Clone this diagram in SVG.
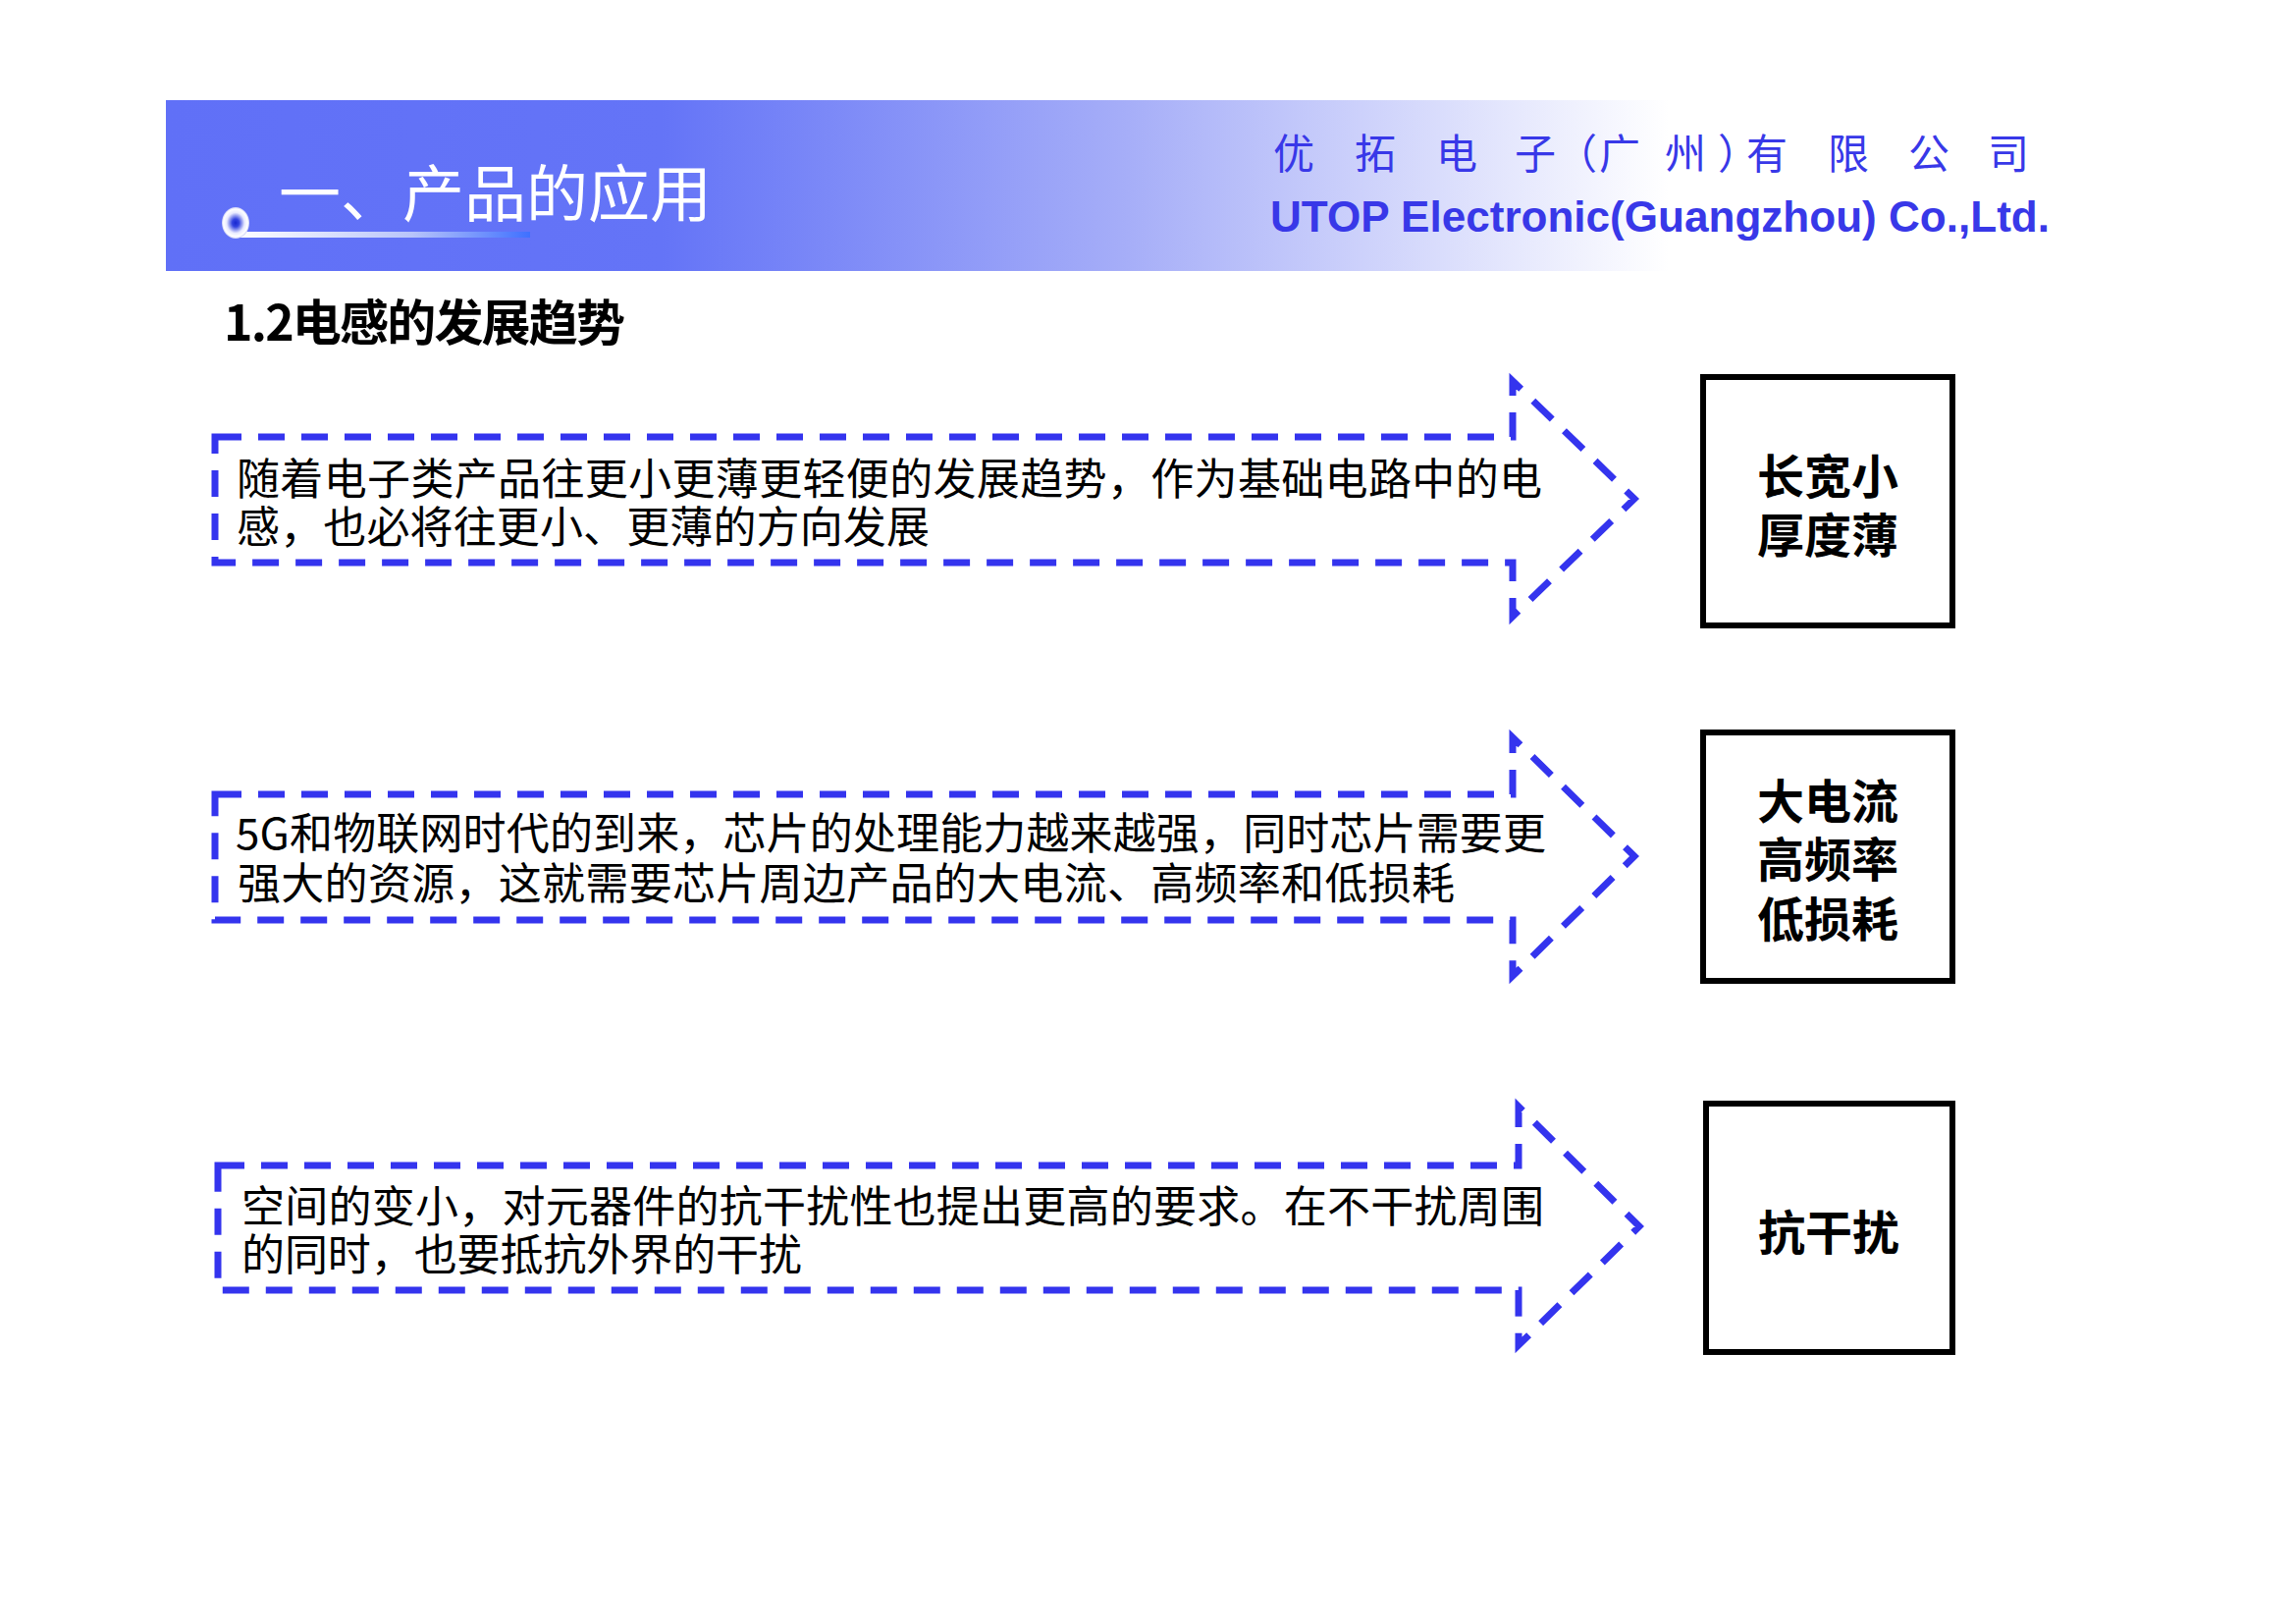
<svg xmlns="http://www.w3.org/2000/svg" width="2339" height="1653" viewBox="0 0 2339 1653">
<style>
.arrow{fill:none;stroke:#3434EE;stroke-width:7;stroke-dasharray:27 17;stroke-linejoin:miter}
.body{font-family:"Noto Sans CJK SC","Liberation Serif",sans-serif;font-size:44px;fill:#000}
.box{fill:#fff;stroke:#000;stroke-width:6}
.boxtxt{font-family:"Noto Sans CJK SC",sans-serif;font-size:48px;font-weight:700;fill:#000;text-anchor:middle}
</style>
<defs>
<linearGradient id="band" gradientUnits="userSpaceOnUse" x1="169" y1="0" x2="1700" y2="0">
<stop offset="0" stop-color="#6070F7"/>
<stop offset="0.33" stop-color="#6474F7"/>
<stop offset="0.64" stop-color="#A6AEF8"/>
<stop offset="1" stop-color="#FFFFFF"/>
</linearGradient>
<linearGradient id="bar" x1="0" y1="0" x2="1" y2="0">
<stop offset="0" stop-color="#FFFFFF"/>
<stop offset="0.6" stop-color="#B8C4FA"/>
<stop offset="1" stop-color="#3F70FF"/>
</linearGradient>
<radialGradient id="dot" cx="0.5" cy="0.5" r="0.5">
<stop offset="0" stop-color="#1626D0"/>
<stop offset="0.25" stop-color="#3444E0"/>
<stop offset="0.65" stop-color="#E8EAFF"/>
<stop offset="0.88" stop-color="#FFFFFF"/>
<stop offset="1" stop-color="#C8CCF8"/>
</radialGradient>
</defs>
<rect width="2339" height="1653" fill="#fff"/>
<g id="header">
<rect x="169" y="102" width="1531" height="174" fill="url(#band)"/>
<rect x="240" y="236" width="300" height="6" fill="url(#bar)"/>
<ellipse cx="240" cy="227" rx="14" ry="16" fill="url(#dot)"/>
<text x="284" y="220" font-family="Noto Sans CJK SC, sans-serif" font-size="63" fill="#fff" textLength="441" lengthAdjust="spacingAndGlyphs">一、产品的应用</text>
<text y="172" font-family="Noto Sans CJK SC, sans-serif" font-size="42" fill="#3838E8" x="1297 1380 1463 1543 1585 1629 1696 1750 1779 1862 1944 2025">优拓电子（广州）有限公司</text>
<text x="1294" y="236" font-family="Liberation Sans, Arial, sans-serif" font-size="45" font-weight="700" fill="#3838E8" textLength="794" lengthAdjust="spacingAndGlyphs">UTOP Electronic(Guangzhou) Co.,Ltd.</text>
</g>
<g id="subtitle">
<text x="228" y="347" font-family="Noto Sans CJK SC, sans-serif" font-size="50" font-weight="700" fill="#000" textLength="409">1.2电感的发展趋势</text>
</g>
<g id="connectors"/>
<g id="arrow1">
<path class="arrow" d="M219,445 L1541,445 L1541,388 L1665,508 L1541,628 L1541,573 L219,573 Z"/>
<text class="body" x="241" y="504" textLength="1330">随着电子类产品往更小更薄更轻便的发展趋势，作为基础电路中的电</text>
<text class="body" x="241" y="553" textLength="706">感，也必将往更小、更薄的方向发展</text>
</g>
<g id="arrow2">
<path class="arrow" d="M219,809 L1541,809 L1541,751 L1665,872 L1541,994 L1541,937 L219,937 Z"/>
<text class="body" x="240" y="865" textLength="1335">5G和物联网时代的到来，芯片的处理能力越来越强，同时芯片需要更</text>
<text class="body" x="242" y="916" textLength="1240">强大的资源，这就需要芯片周边产品的大电流、高频率和低损耗</text>
</g>
<g id="arrow3">
<path class="arrow" d="M222,1187 L1547,1187 L1547,1127 L1670,1249 L1547,1370 L1547,1314 L222,1314 Z"/>
<text class="body" x="246" y="1245" textLength="1327">空间的变小，对元器件的抗干扰性也提出更高的要求。在不干扰周围</text>
<text class="body" x="246" y="1294" textLength="571">的同时，也要抵抗外界的干扰</text>
</g>
<g id="box1">
<rect class="box" x="1735" y="384" width="254" height="253"/>
<text class="boxtxt" x="1862" y="503">长宽小</text>
<text class="boxtxt" x="1862" y="563">厚度薄</text>
</g>
<g id="box2">
<rect class="box" x="1735" y="746" width="254" height="253"/>
<text class="boxtxt" x="1862" y="834">大电流</text>
<text class="boxtxt" x="1862" y="893">高频率</text>
<text class="boxtxt" x="1862" y="954">低损耗</text>
</g>
<g id="box3">
<rect class="box" x="1738" y="1124" width="251" height="253"/>
<text class="boxtxt" x="1863" y="1273">抗干扰</text>
</g>
</svg>
